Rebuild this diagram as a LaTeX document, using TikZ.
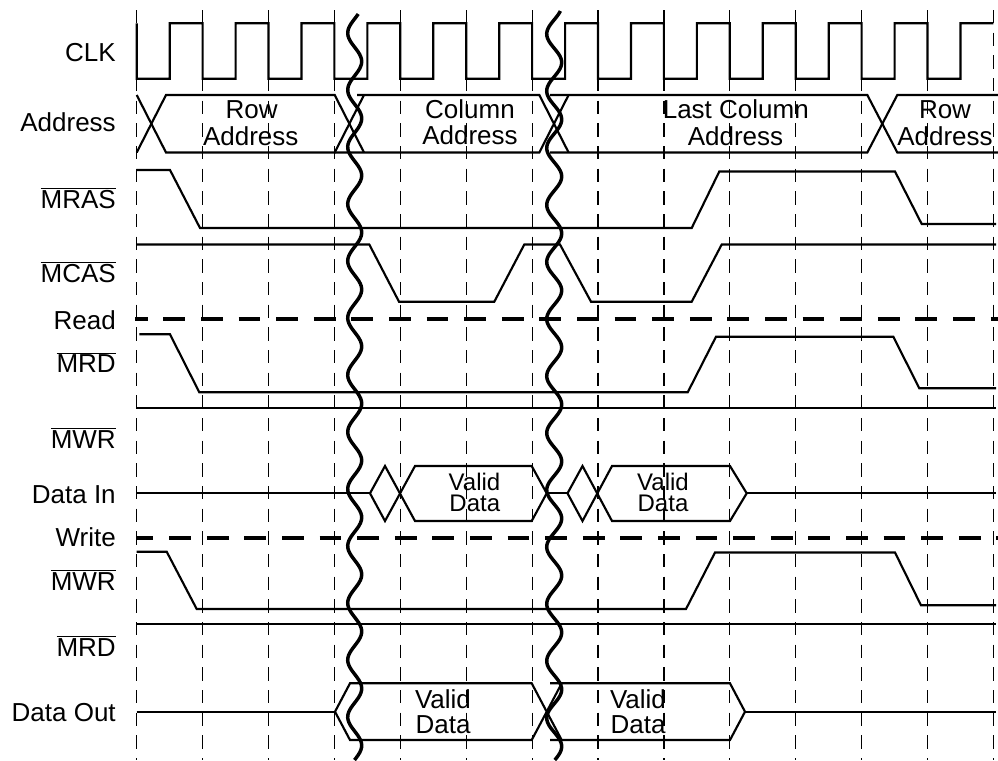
\documentclass[tikz,border=0pt]{standalone}
\usepackage{fontspec}
\setmainfont{Liberation Sans}
\begin{document}
\begin{tikzpicture}[x=0.75pt,y=-0.75pt,
  sig/.style={line width=1.6pt, line join=miter},
  gridline/.style={line width=0.9pt, dash pattern=on 10pt off 7pt},
  ctrl/.style={line width=3pt, dash pattern=on 16.3pt off 11.9pt},
  wave/.style={line width=2.6pt},
  lbl/.style={font=\fontsize{19.5}{20}\selectfont, inner sep=0pt},
  sname/.style={lbl, anchor=base east},
  btext/.style={lbl, anchor=base},
  stext/.style={font=\fontsize{18}{18}\selectfont, inner sep=0pt, anchor=base}]
\useasboundingbox (0,0) rectangle (998,760);
% grid
\foreach \i in {0,...,13}
  \draw[gridline] ({136.7+65.9*\i},10) -- ({136.7+65.9*\i},760);
% CLK
\draw[sig] (136.7,23.3)
  \foreach \i in {0,...,12} {
    -- ({136.7+65.9*\i},78.7) -- ({169.7+65.9*\i},78.7)
    -- ({169.7+65.9*\i},23.3) -- ({202.6+65.9*\i},23.3) }
  -- (993.4,23.3);
% Address
\draw[sig] (136.7,95) -- (166,152.5) -- (334.7,152.5) -- (364,95);
\draw[sig] (136.7,152.5) -- (166,95) -- (334.7,95) -- (364,152.5);
\draw[sig] (357,95) -- (539.3,95) -- (568.6,152.5);
\draw[sig] (335,152.5) -- (539.3,152.5) -- (568.6,95);
\draw[sig] (550,95) -- (867.3,95) -- (897.3,152.5) -- (998,152.5);
\draw[sig] (550,152.5) -- (867.3,152.5) -- (897.3,95) -- (998,95);
% MRAS
\draw[sig] (136.7,170) -- (170,170) -- (200,228) -- (691.7,228) -- (719.3,171.5)
  -- (895,171.5) -- (921.7,224) -- (996,224);
% MCAS
\draw[sig] (136.7,244.5) -- (369.3,244.5) -- (399,301.7) -- (494.3,301.7) -- (524.3,244.5)
  -- (560,244.5) -- (591,301.7) -- (691.7,301.7) -- (721.7,244.5) -- (996,244.5);
% Read
\draw[ctrl, dash phase=6.9pt] (135,319.3) -- (998,319.3);
% MRD 1
\draw[sig] (139.3,334.3) -- (170,334.3) -- (199.3,392.3) -- (687.7,392.3) -- (716,336.7)
  -- (893.3,336.7) -- (919.3,388.3) -- (996,388.3);
% MWR 1
\draw[sig] (136.7,408) -- (996,408);
% Data In
\draw[sig] (136.7,493.3) -- (370,493.3);
\draw[sig] (370,493.3) -- (385,466) -- (415,521) -- (531.7,521) -- (546.7,493.3)
  -- (531.7,466) -- (415,466) -- (385,521) -- cycle;
\draw[sig] (546.7,493.3) -- (567.5,493.3);
\draw[sig] (567.5,493.3) -- (582.5,466) -- (612,521) -- (730,521) -- (746.7,493.3)
  -- (730,466) -- (612,466) -- (582.5,521) -- cycle;
\draw[sig] (746.7,493.3) -- (996,493.3);
% Write
\draw[ctrl, dash phase=4pt] (137,537.7) -- (998,537.7);
% MWR 2
\draw[sig] (136.7,551.7) -- (166.7,551.7) -- (196.7,609) -- (686,609) -- (715,552.5)
  -- (895,552.5) -- (921,605.3) -- (996,605.3);
% MRD 2
\draw[sig] (136.7,624) -- (996,624);
% Data Out
\draw[sig] (136.7,711.7) -- (335,711.7);
\draw[sig] (335,711.7) -- (350,683.3) -- (531.7,683.3) -- (546.7,711.7) -- (531.7,740)
  -- (350,740) -- cycle;
\draw[sig] (546.7,711.7) -- (561.7,683.3);
\draw[sig] (546.7,711.7) -- (561.7,740);
\draw[sig] (550,683.3) -- (730,683.3) -- (745,711.7) -- (730,740) -- (550,740);
\draw[sig] (745,711.7) -- (996,711.7);
% breaks
\draw[wave] plot[domain=14:760, samples=300, smooth] ({354.7+7*sin(6.3158*(\x-318)-90)}, \x);
\draw[wave] plot[domain=11:760, samples=300, smooth] ({554.2+7.5*sin(6.3158*(\x-319)-90)}, \x);
% signal names
\node[sname] (lclk) at (116,61.7) {CLK};
\node[sname] (laddr) at (116,131.7) {Address};
\node[sname] (lmras) at (116,208.3) {$\overline{\mbox{MRAS}}$};
\node[sname] (lmcas) at (116,282.7) {$\overline{\mbox{MCAS}}$};
\node[sname] (lread) at (116,329.3) {Read};
\node[sname] (lmrda) at (116,372.7) {$\overline{\mbox{MRD}}$};
\node[sname] (lmwra) at (116,448) {$\overline{\mbox{MWR}}$};
\node[sname] (ldin) at (116,503) {Data In};
\node[sname] (lwrite) at (116,546.7) {Write};
\node[sname] (lmwrb) at (116,590) {$\overline{\mbox{MWR}}$};
\node[sname] (lmrdb) at (116,656) {$\overline{\mbox{MRD}}$};
\node[sname] (ldout) at (116,721.7) {Data Out};
% bus texts
\node[btext] (ra1) at (251.7,118.3) {Row};
\node[btext] (ra2) at (250.7,145) {Address};
\node[btext] (ca1) at (470,118.3) {Column};
\node[btext] (ca2) at (470,144.5) {Address};
\node[btext] (lc1) at (735.8,118.3) {Last Column};
\node[btext] (lc2) at (735.5,145) {Address};
\node[btext] (rb1) at (945,118.3) {Row};
\node[btext] (rb2) at (945,145) {Address};
\node[stext] (di1) at (474.5,490) {Valid};
\node[stext] (di2) at (474.8,511) {Data};
\node[stext] (di3) at (663,490) {Valid};
\node[stext] (di4) at (663,511) {Data};
\node[btext] (do1) at (443,708.3) {Valid};
\node[btext] (do2) at (443,733.3) {Data};
\node[btext] (do3) at (638,708.3) {Valid};
\node[btext] (do4) at (638,733.3) {Data};
\end{tikzpicture}
\end{document}
